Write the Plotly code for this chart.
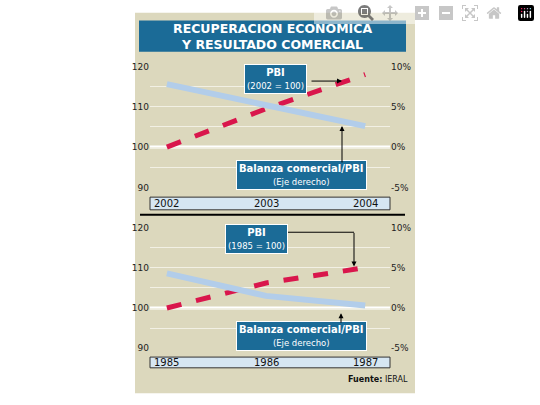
import plotly.graph_objects as go

W, H = 540, 405
years_top = [2002, 2003, 2004]
pbi_top = [100, 109.5, 118]
bal_top = [7.8, 5.2, 2.6]
years_bot = [1985, 1986, 1987]
pbi_bot = [100, 106.2, 110]
bal_bot = [4.3, 1.5, 0.3]
left_ticks = [90, 95, 100, 105, 110, 115, 120]
left_text = ["90", "", "100", "", "110", "", "120"]
right_ticks = [-5, 0, 5, 10]
right_text = ["-5%", "0%", "5%", "10%"]

def px(x): return x / W
def py(y): return 1 - y / H

BLUE = "#b2cdea"
RED = "#d9164c"
BOX = "#1b6b97"
BG = "#dcd8bd"
font = "DejaVu Sans"

fig = go.Figure()
fig.add_trace(go.Scatter(x=years_top, y=bal_top, xaxis="x", yaxis="y2", mode="lines",
                         line=dict(color=BLUE, width=6)))
fig.add_trace(go.Scatter(x=years_top, y=pbi_top, xaxis="x", yaxis="y", mode="lines",
                         line=dict(color=RED, width=5, dash="dash")))
fig.add_trace(go.Scatter(x=years_bot, y=bal_bot, xaxis="x2", yaxis="y4", mode="lines",
                         line=dict(color=BLUE, width=6)))
fig.add_trace(go.Scatter(x=years_bot, y=pbi_bot, xaxis="x2", yaxis="y3", mode="lines",
                         line=dict(color=RED, width=5, dash="dash")))

xd = [px(150), px(390)]
def yax(dom, anchor):
    return dict(domain=dom, range=[90, 120], tickvals=left_ticks, ticktext=left_text,
                showgrid=True, gridcolor="#f2f0e4", gridwidth=1, zeroline=False,
                anchor=anchor, tickfont=dict(size=9, family=font, color="#222"), fixedrange=True)
def yax2(overlay, anchor):
    return dict(overlaying=overlay, side="right", range=[-5, 10], tickvals=right_ticks,
                ticktext=right_text, showgrid=False, zeroline=False, anchor=anchor,
                tickfont=dict(size=9, family=font, color="#222"))
dtop = [py(187), py(63)]
dbot = [py(352), py(228)]
fig.update_layout(
    width=W, height=H, margin=dict(l=0, r=0, t=0, b=0), showlegend=False,
    paper_bgcolor="white", plot_bgcolor="rgba(0,0,0,0)",
    xaxis=dict(domain=xd, range=[2001.83, 2004.25], visible=False, anchor="y"),
    xaxis2=dict(domain=xd, range=[1984.83, 1987.25], visible=False, anchor="y3"),
    yaxis=yax(dtop, "x"), yaxis2=yax2("y", "x"),
    yaxis3=yax(dbot, "x2"), yaxis4=yax2("y3", "x2"),
)

shapes = [
    dict(type="rect", xref="paper", yref="paper", x0=px(135), x1=px(415), y0=py(398), y1=py(8),
         fillcolor=BG, line_width=0, layer="below"),
    dict(type="rect", xref="paper", yref="paper", x0=px(139), x1=px(406), y0=py(48), y1=py(16),
         fillcolor=BOX, line_width=0),
    dict(type="line", xref="paper", yref="paper", x0=px(140), x1=px(405), y0=py(215), y1=py(215),
         line=dict(color="black", width=2)),
    dict(type="rect", xref="paper", yref="paper", x0=px(150), x1=px(390), y0=py(210), y1=py(197),
         fillcolor="#d6e6f2", line=dict(color="#333", width=1)),
    dict(type="rect", xref="paper", yref="paper", x0=px(150), x1=px(390), y0=py(372), y1=py(361),
         fillcolor="#d6e6f2", line=dict(color="#333", width=1)),
    dict(type="line", xref="paper", yref="y", x0=xd[0], x1=xd[1], y0=100, y1=100,
         line=dict(color="white", width=3), layer="below"),
    dict(type="line", xref="paper", yref="y3", x0=xd[0], x1=xd[1], y0=100, y1=100,
         line=dict(color="white", width=3), layer="below"),
    dict(type="line", xref="paper", yref="paper", x0=px(287), x1=px(354), y0=py(233), y1=py(233),
         line=dict(color="black", width=1)),
]
fig.update_layout(shapes=shapes)

ann = []
ann.append(dict(xref="paper", yref="paper", x=px(272), y=py(32), showarrow=False,
                xanchor="center", yanchor="middle",
                text="<b>RECUPERACION ECONOMICA<br>Y RESULTADO COMERCIAL</b>",
                font=dict(size=12.5, family=font, color="white")))
for yrs, ypix, xr in [(years_top, 204, "x"), (years_bot, 367, "x2")]:
    for y in yrs:
        ann.append(dict(xref=xr, yref="paper", x=y, y=py(ypix), xanchor="center", yanchor="middle",
                        showarrow=False, text=str(y), font=dict(size=10, family=font, color="#111")))
def box(x, y, title, sub):
    return dict(xref="paper", yref="paper", x=px(x), y=py(y), showarrow=False,
                xanchor="center", yanchor="middle",
                text=f"<b>{title}</b><br><span style='font-size:8.5px'>{sub}</span>",
                font=dict(size=10, family=font, color="white"), bgcolor=BOX,
                bordercolor="white", borderwidth=1, borderpad=2)
ann += [box(275, 76, "PBI", "(2002 = 100)"), box(301, 174, "Balanza comercial/PBI", "(Eje derecho)"),
        box(256, 240, "PBI", "(1985 = 100)"), box(301, 339, "Balanza comercial/PBI", "(Eje derecho)")]
def arrow(x, y, ax, ay):
    return dict(xref="paper", yref="paper", x=px(x), y=py(y), ax=ax, ay=ay, text="",
                showarrow=True, arrowhead=2, arrowsize=1, arrowwidth=1, arrowcolor="black")
ann += [arrow(342, 78, -32, 0), arrow(342, 124, 0, 38), arrow(354, 268, 0, -35),
        arrow(341, 316, 0, 11)]
ann.append(dict(xref="paper", yref="paper", x=px(410), y=py(384), xanchor="right", yanchor="middle",
                showarrow=False,
                text="<b>Fuente:</b> IERAL", font=dict(size=8, family=font, color="#111")))
fig.update_layout(annotations=ann)
fig.write_html("out.html", post_script="document.body.style.margin='0px';")
